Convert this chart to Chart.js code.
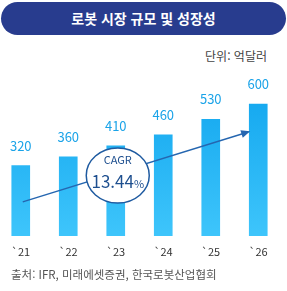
<!DOCTYPE html>
<html lang="ko">
<head>
<meta charset="UTF-8">
<title>로봇 시장 규모 및 성장성</title>
<script src="https://cdn.jsdelivr.net/npm/chart.js"></script>
<style>
    html, body { margin: 0; padding: 0; background: #fff; }
    body { font-family: "Noto Sans CJK KR", "Noto Sans", sans-serif; }
    .wrap { position: relative; width: 287px; height: 291px; overflow: hidden; }
    .title {
        position: absolute; left: 1px; top: 2px; width: 285px; height: 33px;
        border-radius: 17px; background: #283c8e; color: #fff;
        font-size: 14px; font-weight: bold; text-align: center; line-height: 33px;
    }
    .unit { position: absolute; right: 20px; top: 48px; font-size: 12px; line-height: 16px; color: #444; }
    .source { position: absolute; left: 11px; top: 266px; font-size: 11.5px; line-height: 16px; color: #555; }
    #chart { position: absolute; left: -3px; top: 0; }
</style>
</head>
<body>
<div class="wrap">
    <div class="title">로봇 시장 규모 및 성장성</div>
    <div class="unit">단위: 억달러</div>
    <canvas id="chart" width="285" height="291"></canvas>
    <div class="source">출처: IFR, 미래에셋증권, 한국로봇산업협회</div>
</div>
<script>
    // data
    const years = ['`21', '`22', '`23', '`24', '`25', '`26'];
    const marketSize = [320, 360, 410, 460, 530, 600];
    const cagrText = ['CAGR', '13.44', '%'];

    const FONT = '"Noto Sans CJK KR", "Noto Sans", sans-serif';

    // value labels, trend arrow and CAGR bubble
    const overlay = {
        id: 'overlay',
        afterDatasetsDraw(chart) {
            const ctx = chart.ctx;
            const x = chart.scales.x, y = chart.scales.y;
            const meta = chart.getDatasetMeta(0);

            ctx.save();
            ctx.fillStyle = '#1aa3e8';
            ctx.font = '13px ' + FONT;
            ctx.textAlign = 'center';
            ctx.textBaseline = 'middle';
            meta.data.forEach((bar, i) => {
                ctx.fillText(marketSize[i], bar.x, bar.y - 20);
            });

            // arrow
            const x1 = x.getPixelForValue(0) + 2, y1 = y.getPixelForValue(155);
            const x2 = x.getPixelForValue(5) - 10, y2 = y.getPixelForValue(473);
            ctx.strokeStyle = '#2566b0';
            ctx.fillStyle = '#2566b0';
            ctx.lineWidth = 1.5;
            ctx.beginPath();
            ctx.moveTo(x1, y1);
            ctx.lineTo(x2, y2);
            ctx.stroke();
            const a = Math.atan2(y2 - y1, x2 - x1);
            ctx.beginPath();
            ctx.moveTo(x2 + 2 * Math.cos(a), y2 + 2 * Math.sin(a));
            ctx.lineTo(x2 - 7 * Math.cos(a) - 4 * Math.sin(a), y2 - 7 * Math.sin(a) + 4 * Math.cos(a));
            ctx.lineTo(x2 - 7 * Math.cos(a) + 4 * Math.sin(a), y2 - 7 * Math.sin(a) - 4 * Math.cos(a));
            ctx.closePath();
            ctx.fill();

            // bubble
            const cx = x.getPixelForValue(2) + 2, cy = y.getPixelForValue(275);
            ctx.beginPath();
            ctx.ellipse(cx, cy, 31.5, 27.5, 0, 0, Math.PI * 2);
            ctx.fillStyle = '#fff';
            ctx.fill();
            ctx.strokeStyle = '#1e5aa0';
            ctx.stroke();

            ctx.fillStyle = '#1e4f8f';
            ctx.font = '11px ' + FONT;
            ctx.fillText(cagrText[0], cx, cy - 16);
            ctx.font = '17px ' + FONT;
            const w1 = ctx.measureText(cagrText[1]).width;
            ctx.font = '11px ' + FONT;
            const w2 = ctx.measureText(cagrText[2]).width;
            const sx = cx - (w1 + w2) / 2;
            ctx.textAlign = 'left';
            ctx.font = '17px ' + FONT;
            ctx.fillText(cagrText[1], sx, cy + 6);
            ctx.font = '11px ' + FONT;
            ctx.fillText(cagrText[2], sx + w1, cy + 8);
            ctx.restore();
        }
    };

    new Chart(document.getElementById('chart'), {
        type: 'bar',
        data: {
            labels: years,
            datasets: [{
                data: marketSize,
                barThickness: 18,
                backgroundColor: (c) => {
                    const area = c.chart.chartArea;
                    if (!area) return '#1fb2f2';
                    const g = c.chart.ctx.createLinearGradient(0, area.top, 0, area.bottom);
                    g.addColorStop(0, '#10a5ee');
                    g.addColorStop(1, '#3ec5fb');
                    return g;
                }
            }]
        },
        options: {
            responsive: false,
            animation: false,
            layout: { padding: { top: 82, bottom: 33, left: 0, right: 0 } },
            plugins: { legend: { display: false }, tooltip: { enabled: false } },
            scales: {
                x: {
                    grid: { display: false, drawTicks: false },
                    border: { display: false },
                    ticks: { color: '#333', font: { size: 11, family: FONT }, padding: 9, maxRotation: 0 },
                    afterFit: (s) => { s.height = 22; }
                },
                y: { display: false, min: 0, max: 700 }
            }
        },
        plugins: [overlay]
    });
</script>
</body>
</html>
